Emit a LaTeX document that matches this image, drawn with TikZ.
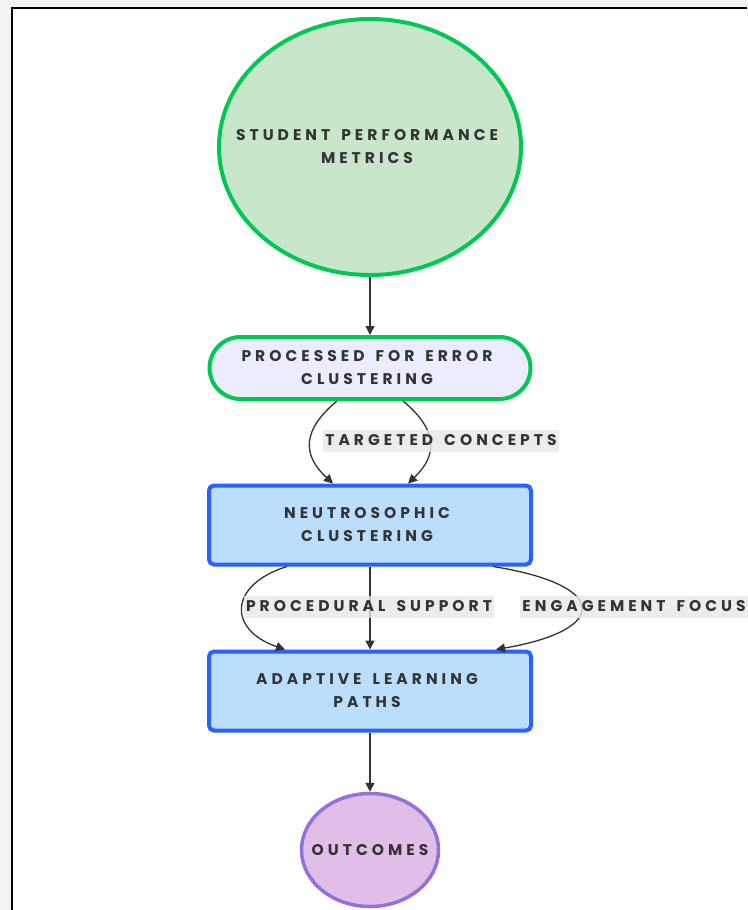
\documentclass[tikz,border=0pt]{standalone}
\usepackage{fontspec}
\newfontfamily\lab[LetterSpace=26, WordSpace=1.5]{Poppins}
\usetikzlibrary{shapes.geometric,arrows.meta}
\definecolor{outbg}{HTML}{F2F2F2}
\definecolor{gstroke}{HTML}{00C853}
\definecolor{gfill}{HTML}{C8E6C9}
\definecolor{lav}{HTML}{ECECFF}
\definecolor{bstroke}{HTML}{2962FF}
\definecolor{bfill}{HTML}{BBDEFB}
\definecolor{pstroke}{HTML}{9370DB}
\definecolor{pfill}{HTML}{E1BEE7}
\definecolor{ink}{HTML}{333333}
\definecolor{lblbg}{HTML}{E8E8E8}
\tikzset{
  txt/.style={font={\lab\bfseries\fontsize{15.5}{23}\selectfont}, text=ink, align=center, inner sep=0pt},
  greenell/.style={ellipse, draw=gstroke, fill=gfill, line width=4pt, inner sep=0pt, minimum width=302pt, minimum height=256pt},
  stadium/.style={rectangle, rounded corners=31pt, draw=gstroke, fill=lav, line width=4pt, inner sep=0pt, minimum width=321pt, minimum height=62pt},
  bluebox/.style={rectangle, rounded corners=5pt, draw=bstroke, fill=bfill, line width=4pt, inner sep=0pt, minimum width=322pt, minimum height=79pt},
  purpell/.style={ellipse, draw=pstroke, fill=pfill, line width=3.5pt, inner sep=0pt, minimum width=137pt, minimum height=113pt},
  edge/.style={draw=ink, line width=1.3pt, -{Triangle[length=9pt,width=9pt]}},
  elabel/.style={txt, fill=lblbg, fill opacity=0.8, text opacity=1, inner xsep=2pt, text height=15pt, text depth=7pt}
}
\begin{document}
\begin{tikzpicture}[x=1pt,y=-1pt]
\useasboundingbox (0,0) rectangle (747,910);
\fill[outbg] (0,0) rectangle (747,910);
\fill[white] (12,8) rectangle (747,910);
\draw[line width=2pt, black] (12,910) -- (12,8) -- (747,8);

\node[greenell] (spm) at (370,147) {};
\node[stadium] (pec) at (370,368) {};
\node[bluebox] (nc) at (370,525) {};
\node[bluebox] (alp) at (370,691) {};
\node[purpell] (out) at (370,850) {};

\node[txt] (spmt) at (367,147) {STUDENT PERFORMANCE\\METRICS};
\node[txt] (pect) at (367,368) {PROCESSED FOR ERROR\\CLUSTERING};
\node[txt] (nct) at (367,525) {NEUTROSOPHIC\\CLUSTERING};
\node[txt] (alpt) at (367,691) {ADAPTIVE LEARNING\\PATHS};
\node[txt] (outt) at (370,850) {OUTCOMES};

\draw[edge] (spm.south) -- (pec.north);
\draw[edge] ([xshift=-33pt]pec.south) .. controls (302,430) and (302,455) .. ([xshift=-37pt]nc.north);
\draw[edge] ([xshift=33pt]pec.south) .. controls (438,430) and (438,455) .. ([xshift=38pt]nc.north);
\draw[edge] ([xshift=-83pt]nc.south) .. controls (228,585) and (228,630) .. ([xshift=-85pt]alp.north);
\draw[edge] (nc.south) -- (alp.north);
\draw[edge] ([xshift=123pt]nc.south) .. controls (610,585) and (610,630) .. ([xshift=126pt]alp.north);
\draw[edge] (alp.south) -- (out.north);

\node[elabel] (l1) at (441,441) {TARGETED CONCEPTS};
\node[elabel] (l2) at (369,607) {PROCEDURAL SUPPORT};
\node[elabel] (l3) at (634,607) {ENGAGEMENT FOCUS};
\end{tikzpicture}
\end{document}
